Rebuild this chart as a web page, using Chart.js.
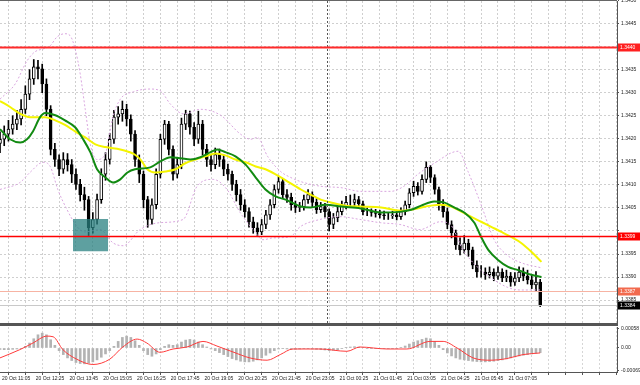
<!DOCTYPE html>
<html>
<head>
<meta charset="utf-8">
<script src="https://cdn.jsdelivr.net/npm/chart.js@4.4.0/dist/chart.umd.min.js"></script>
<style>
  html, body { margin: 0; padding: 0; background: #fff; }
  #wrap { position: relative; width: 640px; height: 385px; overflow: hidden; }
  canvas { position: absolute; left: 0; }
  #priceChart { top: 0; }
  #macdChart { top: 326px; }
</style>
</head>
<body>
<div id="wrap">
  <canvas id="priceChart" width="640" height="326"></canvas>
  <canvas id="macdChart" width="640" height="59"></canvas>
</div>
<script>
// 10-minute bars, bar 0 = 20 Oct 11:05
const timeLabels = ['20 Oct 11:05', '20 Oct 12:25', '20 Oct 13:45', '20 Oct 15:05', '20 Oct 16:25',
    '20 Oct 17:45', '20 Oct 19:05', '20 Oct 20:25', '20 Oct 21:45', '20 Oct 23:05', '21 Oct 00:25',
    '21 Oct 01:45', '21 Oct 03:05', '21 Oct 04:25', '21 Oct 05:45', '21 Oct 07:05'];
const daySeparator = 77.5; // 21 Oct 00:00

const firstOpen = 1.34190;
const closes = [
    1.34199, 1.34210, 1.34221, 1.34232, 1.34243, 1.34264, 1.34297, 1.34330, 1.34356, 1.34352,
    1.34319, 1.34264, 1.34177, 1.34155, 1.34134, 1.34155, 1.34144, 1.34123, 1.34101, 1.34079,
    1.34068, 1.34007, 1.34025, 1.34068, 1.34123, 1.34155, 1.34199, 1.34247, 1.34254, 1.34264,
    1.34243, 1.34210, 1.34155, 1.34123, 1.34068, 1.34025, 1.34057, 1.34123, 1.34199, 1.34232,
    1.34177, 1.34123, 1.34144, 1.34232, 1.34254, 1.34225, 1.34199, 1.34232, 1.34177, 1.34155,
    1.34144, 1.34166, 1.34155, 1.34134, 1.34123, 1.34101, 1.34079, 1.34057, 1.34042, 1.34020,
    1.34007, 1.33998, 1.34014, 1.34035, 1.34057, 1.34090, 1.34107, 1.34079, 1.34073, 1.34057,
    1.34051, 1.34053, 1.34068, 1.34079, 1.34062, 1.34046, 1.34053, 1.34042, 1.34014, 1.34029,
    1.34042, 1.34055, 1.34062, 1.34062, 1.34068, 1.34059, 1.34042, 1.34042, 1.34040, 1.34038,
    1.34035, 1.34033, 1.34033, 1.34035, 1.34031, 1.34042, 1.34057, 1.34083, 1.34097, 1.34086,
    1.34112, 1.34138, 1.34116, 1.34090, 1.34057, 1.34042, 1.34014, 1.33996, 1.33970, 1.33959,
    1.33974, 1.33959, 1.33926, 1.33911, 1.33911, 1.33905, 1.33911, 1.33902, 1.33911, 1.33898,
    1.33902, 1.33889, 1.33898, 1.33911, 1.33902, 1.33894, 1.33883, 1.33889, 1.33840
];
const highs = [
    1.34215, 1.34228, 1.34240, 1.34250, 1.34262, 1.34285, 1.34315, 1.34350, 1.34372, 1.34370,
    1.34362, 1.34330, 1.34272, 1.34190, 1.34165, 1.34170, 1.34168, 1.34155, 1.34135, 1.34112,
    1.34095, 1.34075, 1.34040, 1.34080, 1.34135, 1.34170, 1.34212, 1.34262, 1.34270, 1.34282,
    1.34275, 1.34252, 1.34218, 1.34165, 1.34130, 1.34075, 1.34070, 1.34135, 1.34210, 1.34240,
    1.34238, 1.34185, 1.34160, 1.34245, 1.34262, 1.34260, 1.34235, 1.34260, 1.34240, 1.34188,
    1.34165, 1.34180, 1.34178, 1.34165, 1.34145, 1.34130, 1.34110, 1.34090, 1.34068, 1.34050,
    1.34030, 1.34018, 1.34025, 1.34045, 1.34068, 1.34100, 1.34118, 1.34112, 1.34090, 1.34082,
    1.34065, 1.34062, 1.34078, 1.34090, 1.34085, 1.34070, 1.34062, 1.34060, 1.34048, 1.34038,
    1.34052, 1.34065, 1.34075, 1.34078, 1.34080, 1.34075, 1.34065, 1.34050, 1.34048, 1.34047,
    1.34045, 1.34043, 1.34040, 1.34043, 1.34042, 1.34050, 1.34065, 1.34092, 1.34108, 1.34105,
    1.34122, 1.34150, 1.34142, 1.34122, 1.34095, 1.34068, 1.34050, 1.34022, 1.34002, 1.33985,
    1.33990, 1.33982, 1.33965, 1.33935, 1.33925, 1.33920, 1.33922, 1.33918, 1.33922, 1.33918,
    1.33915, 1.33910, 1.33910, 1.33922, 1.33920, 1.33915, 1.33905, 1.33912, 1.33895
];
const lows = [
    1.34170, 1.34185, 1.34195, 1.34210, 1.34220, 1.34230, 1.34255, 1.34285, 1.34318, 1.34330,
    1.34300, 1.34250, 1.34165, 1.34140, 1.34120, 1.34125, 1.34130, 1.34105, 1.34090, 1.34065,
    1.34045, 1.33990, 1.33995, 1.34015, 1.34060, 1.34110, 1.34145, 1.34190, 1.34232, 1.34238,
    1.34228, 1.34195, 1.34140, 1.34105, 1.34050, 1.34008, 1.34015, 1.34048, 1.34115, 1.34188,
    1.34165, 1.34110, 1.34115, 1.34135, 1.34220, 1.34210, 1.34185, 1.34190, 1.34165, 1.34140,
    1.34130, 1.34135, 1.34140, 1.34120, 1.34110, 1.34088, 1.34065, 1.34045, 1.34030, 1.34008,
    1.33995, 1.33990, 1.33992, 1.34005, 1.34025, 1.34050, 1.34082, 1.34070, 1.34062, 1.34045,
    1.34040, 1.34042, 1.34045, 1.34060, 1.34052, 1.34038, 1.34040, 1.34030, 1.34000, 1.34005,
    1.34020, 1.34035, 1.34048, 1.34052, 1.34055, 1.34050, 1.34035, 1.34033, 1.34032, 1.34030,
    1.34028, 1.34025, 1.34025, 1.34027, 1.34024, 1.34025, 1.34035, 1.34050, 1.34075, 1.34078,
    1.34080, 1.34105, 1.34105, 1.34080, 1.34045, 1.34030, 1.34005, 1.33985, 1.33960, 1.33948,
    1.33952, 1.33945, 1.33918, 1.33900, 1.33900, 1.33895, 1.33898, 1.33892, 1.33895, 1.33890,
    1.33890, 1.33880, 1.33882, 1.33890, 1.33892, 1.33885, 1.33875, 1.33870, 1.33836
];

// indicator lines: [bar, price]
const fastMA = [
    [0, 1.34221], [2.4, 1.34199], [4.8, 1.34192], [6.4, 1.34199], [7.8, 1.34216], [9.5, 1.34247],
    [10.7, 1.34256], [13.1, 1.34251], [15.4, 1.34240], [17.8, 1.34225], [19.7, 1.34199], [21.4, 1.34171],
    [23, 1.34134], [25, 1.34116], [26.8, 1.34105], [28.5, 1.34112], [30.2, 1.34127], [32, 1.34134],
    [35.6, 1.34138], [38, 1.34151], [40.4, 1.34160], [42.8, 1.34158], [45.1, 1.34155], [47.5, 1.34160],
    [49.9, 1.34171], [51.5, 1.34177], [53.4, 1.34171], [55.8, 1.34162], [58.2, 1.34144], [60.6, 1.34116],
    [62.9, 1.34090], [65.3, 1.34075], [67.7, 1.34068], [71.3, 1.34053], [73.6, 1.34051], [77.2, 1.34057],
    [80.8, 1.34053], [85.5, 1.34049], [90.3, 1.34040], [95, 1.34042], [97.4, 1.34046], [99.8, 1.34055],
    [102.9, 1.34064], [105.2, 1.34062], [107.6, 1.34051], [110, 1.34040], [112.4, 1.34018], [114, 1.33987],
    [115.7, 1.33959], [118, 1.33937], [120.4, 1.33922], [122.8, 1.33915], [125.9, 1.33905], [128.3, 1.33900]
];
const slowMA = [
    [0, 1.34282], [2.4, 1.34269], [4.8, 1.34254], [7.1, 1.34247], [10.7, 1.34247], [13.1, 1.34240],
    [15.4, 1.34230], [17.8, 1.34216], [20.2, 1.34203], [22.6, 1.34188], [25, 1.34182], [28.5, 1.34177],
    [30.4, 1.34172], [31.9, 1.34166], [33.3, 1.34155], [34.9, 1.34134], [36.8, 1.34127], [39.2, 1.34129],
    [41.6, 1.34134], [43.9, 1.34147], [46.3, 1.34155], [48.7, 1.34162], [51.1, 1.34168], [53.4, 1.34164],
    [55.8, 1.34155], [58.2, 1.34149], [60.6, 1.34140], [62.9, 1.34134], [65.3, 1.34123], [67.7, 1.34110],
    [71.3, 1.34090], [73.6, 1.34079], [76, 1.34068], [78.4, 1.34062], [81.9, 1.34055], [85.5, 1.34053],
    [90.3, 1.34051], [95, 1.34044], [97.4, 1.34046], [99.8, 1.34051], [102.1, 1.34055], [104.5, 1.34057],
    [106.9, 1.34053], [109.3, 1.34042], [111.6, 1.34031], [114, 1.34020], [116.4, 1.34009], [118.8, 1.33998],
    [121.1, 1.33987], [123.5, 1.33974], [125.9, 1.33955], [128.3, 1.33933]
];
const upperBand = [
    [0, 1.34286], [3.6, 1.34319], [6.4, 1.34369], [8.3, 1.34389], [10.2, 1.34395], [11.9, 1.34402],
    [13.5, 1.34421], [15.4, 1.34428], [16.6, 1.34424], [17.8, 1.34395], [19, 1.34341], [20.2, 1.34264],
    [21.4, 1.34188], [23, 1.34155], [24.9, 1.34166], [26.8, 1.34249], [28.5, 1.34286], [31.6, 1.34302],
    [35.6, 1.34308], [38, 1.34304], [40.4, 1.34275], [43.5, 1.34254], [47.5, 1.34264], [52.3, 1.34251],
    [57, 1.34210], [59.4, 1.34199], [61, 1.34203], [63.4, 1.34162], [66.5, 1.34129], [68.9, 1.34116],
    [71.3, 1.34107], [76, 1.34097], [80.8, 1.34094], [85.5, 1.34086], [92.6, 1.34086], [95.7, 1.34097],
    [99, 1.34123], [102.9, 1.34147], [108.6, 1.34173], [110.9, 1.34129], [114, 1.34057], [117.1, 1.33981],
    [120.4, 1.33946], [123.5, 1.33931], [128.3, 1.33920]
];
const lowerBand = [
    [0, 1.34090], [4.7, 1.34105], [7.1, 1.34127], [10.2, 1.34149], [11.9, 1.34140], [13.7, 1.34090],
    [15.9, 1.34046], [18.3, 1.34009], [20.1, 1.33998], [23.7, 1.34003], [26.8, 1.33974], [29.2, 1.33968],
    [33.2, 1.34003], [37.9, 1.34018], [43.4, 1.34025], [46.7, 1.34097], [50.5, 1.34112], [53.8, 1.34090],
    [56.9, 1.34040], [60, 1.34003], [62.3, 1.33981], [64.7, 1.33985], [68.7, 1.33987], [71.1, 1.34009],
    [75.8, 1.34025], [80.6, 1.34031], [85.3, 1.34025], [90.1, 1.34018], [94.8, 1.34014], [99.5, 1.34003],
    [104.3, 1.34020], [106.7, 1.34014], [109.7, 1.33959], [113.1, 1.33922], [116.1, 1.33900], [120.2, 1.33878],
    [123.3, 1.33872], [128, 1.33872]
];

const macdHist = [
    -0.00004, -0.00005, -0.00005, -0.00004, -0.00003, -0.00001, 0.00005, 0.00015, 0.00028, 0.00040,
    0.00045, 0.00040, 0.00025, 0.00008, -0.00008, -0.00020, -0.00030, -0.00038, -0.00044, -0.00047,
    -0.00048, -0.00046, -0.00042, -0.00036, -0.00028, -0.00018, -0.00008, 0.00005, 0.00020, 0.00032,
    0.00036, 0.00032, 0.00022, 0.00008, -0.00008, -0.00020, -0.00025, -0.00018, -0.00005, 0.00005,
    0.00010, 0.00008, 0.00010, 0.00018, 0.00024, 0.00026, 0.00024, 0.00018, 0.00010, 0.00003,
    -0.00003, -0.00008, -0.00014, -0.00020, -0.00026, -0.00032, -0.00036, -0.00040, -0.00042, -0.00042,
    -0.00040, -0.00036, -0.00030, -0.00022, -0.00015, -0.00008, -0.00003, -0.00002, -0.00003, -0.00004,
    -0.00004, -0.00003, -0.00002, -0.00002, -0.00003, -0.00004, -0.00005, -0.00006, -0.00008, -0.00007,
    -0.00005, -0.00002, 0.00001, 0.00003, 0.00004, 0.00003, 0.00001, -0.00001, -0.00002, -0.00002,
    -0.00002, -0.00002, -0.00002, -0.00002, -0.00001, 0.00002, 0.00006, 0.00012, 0.00018, 0.00022,
    0.00026, 0.00030, 0.00028, 0.00020, 0.00008, -0.00005, -0.00015, -0.00024, -0.00030, -0.00034,
    -0.00036, -0.00038, -0.00040, -0.00041, -0.00042, -0.00042, -0.00041, -0.00040, -0.00038, -0.00036,
    -0.00033, -0.00030, -0.00027, -0.00024, -0.00022, -0.00020, -0.00018, -0.00016, -0.00014
];
const macdSignal = [
    [0, -0.00030], [4.7, -0.00005], [7.8, 0.00015], [11.1, 0.00036], [12.6, 0.00034], [14.9, -0.00005],
    [18.2, -0.00034], [22, -0.00050], [26, -0.00034], [29.1, 0.00003], [32.5, 0.00027], [34.8, 0.00015],
    [37.9, -0.00013], [41, -0.00003], [44.3, 0.00003], [48.1, 0.00020], [51.4, 0.00006], [55.2, -0.00012],
    [59.2, -0.00030], [63.3, -0.00037], [66.4, -0.00020], [69.4, -0.00003], [75.8, -0.00003], [82.2, -0.00010],
    [85.3, 0.00003], [91.7, -0.00003], [96.4, -0.00003], [101.9, 0.00020], [105, 0.00020], [108.3, 0.00000],
    [112.1, -0.00030], [116.1, -0.00037], [120.1, -0.00032], [123.9, -0.00020], [128, -0.00015]
];

const priceTicks = [1.3385, 1.3390, 1.3395, 1.3400, 1.3405, 1.3410, 1.3415, 1.3420,
    1.3425, 1.3430, 1.3435, 1.3440, 1.3445, 1.3450];
const hiddenTicks = [1.3400, 1.3440];
const macdTicks = [0.00058, 0, -0.00069];

// horizontal levels and the marked zone
const levels = [1.3440, 1.3399, 1.3387, 1.3384];
const zoneBars = [17.3, 25.6];
const zonePrices = [1.33956, 1.34026];

const levelStyle = [
    { line: '#ff2a2a', box: '#ff2020', width: 2 },
    { line: '#ff0000', box: '#ff0000', width: 1.5 },
    { line: '#f7b3a3', box: '#f26a4e', width: 1 },
    { line: '#c9c9c9', box: '#000000', width: 1 }
];

const xMin = 0, xMax = 146.2;
const gridBars = [];
for (let v = 0; v <= xMax; v += 4) gridBars.push(v);

Chart.defaults.font.family = 'Liberation Sans, Arial, sans-serif';
Chart.defaults.font.size = 5;
Chart.defaults.color = '#222';

const opens = closes.map((c, i) => i === 0 ? firstOpen : closes[i - 1]);
const toXY = arr => arr.map(p => ({ x: p[0], y: p[1] }));

// keep the plot area flush with the canvas edges
function fitRight(s) {
    s.width = 23;
    s.paddingTop = 0;
    s.paddingBottom = 0;
}

function hLine(ctx, x0, x1, y) {
    ctx.beginPath();
    ctx.moveTo(x0, y);
    ctx.lineTo(x1, y);
    ctx.stroke();
}

const priceOverlay = {
    id: 'priceOverlay',
    afterDatasetsDraw(chart) {
        const { ctx, chartArea: a, scales: { x, y } } = chart;
        ctx.save();
        // marked zone
        const zx0 = x.getPixelForValue(zoneBars[0]);
        const zx1 = x.getPixelForValue(zoneBars[1]);
        const zy0 = y.getPixelForValue(zonePrices[1]);
        const zy1 = y.getPixelForValue(zonePrices[0]);
        ctx.fillStyle = 'rgba(40,128,128,0.75)';
        ctx.fillRect(zx0, zy0, zx1 - zx0, zy1 - zy0);
        // day separator
        const sx = Math.round(x.getPixelForValue(daySeparator)) + 0.5;
        ctx.strokeStyle = '#555';
        ctx.lineWidth = 1;
        ctx.setLineDash([2, 2]);
        ctx.beginPath();
        ctx.moveTo(sx, a.top);
        ctx.lineTo(sx, a.bottom);
        ctx.stroke();
        ctx.setLineDash([]);
        // level lines
        levels.forEach((v, i) => {
            ctx.strokeStyle = levelStyle[i].line;
            ctx.lineWidth = levelStyle[i].width;
            hLine(ctx, a.left, a.right, Math.round(y.getPixelForValue(v)) + 0.5);
        });
        ctx.restore();
    },
    afterDraw(chart) {
        const { ctx, chartArea: a, scales: { y } } = chart;
        ctx.save();
        // frame
        ctx.fillStyle = '#666';
        ctx.fillRect(0, 0, a.right, 1);
        ctx.fillStyle = '#555';
        ctx.fillRect(0, a.bottom - 2, a.right + 1, 3);
        // price boxes on the axis
        ctx.font = '5px Liberation Sans, Arial, sans-serif';
        ctx.textBaseline = 'middle';
        levels.forEach((v, i) => {
            const py = Math.round(y.getPixelForValue(v)) + 0.5;
            ctx.fillStyle = levelStyle[i].box;
            ctx.fillRect(a.right + 1, py - 4, 22, 8);
            ctx.fillStyle = '#fff';
            ctx.fillText(v.toFixed(4), a.right + 3, py);
        });
        ctx.restore();
    }
};

new Chart(document.getElementById('priceChart'), {
    data: {
        datasets: [
            {
                type: 'bar',
                data: closes.map((c, i) => ({ x: i, y: [lows[i], highs[i]] })),
                backgroundColor: '#000',
                barThickness: 1,
                grouped: false,
                order: 6
            },
            {
                type: 'bar',
                data: closes.map((c, i) => ({ x: i, y: [opens[i], c] })),
                backgroundColor: closes.map((c, i) => c >= opens[i] ? '#ffffff' : '#000000'),
                borderColor: '#000',
                borderWidth: 1,
                borderSkipped: false,
                barThickness: 3,
                grouped: false,
                order: 5
            },
            {
                type: 'line',
                data: toXY(upperBand),
                borderColor: '#d9a6df',
                borderWidth: 1,
                borderDash: [2, 2],
                pointRadius: 0,
                cubicInterpolationMode: 'monotone',
                order: 4
            },
            {
                type: 'line',
                data: toXY(lowerBand),
                borderColor: '#d9a6df',
                borderWidth: 1,
                borderDash: [2, 2],
                pointRadius: 0,
                cubicInterpolationMode: 'monotone',
                order: 4
            },
            {
                type: 'line',
                data: toXY(slowMA),
                borderColor: '#f4f400',
                borderWidth: 2,
                pointRadius: 0,
                cubicInterpolationMode: 'monotone',
                order: 3
            },
            {
                type: 'line',
                data: toXY(fastMA),
                borderColor: '#128a12',
                borderWidth: 2,
                pointRadius: 0,
                cubicInterpolationMode: 'monotone',
                order: 2
            }
        ]
    },
    options: {
        responsive: false,
        animation: false,
        events: [],
        layout: { padding: { top: 1, bottom: 1, left: 0, right: 0 } },
        plugins: { legend: { display: false }, tooltip: { enabled: false } },
        scales: {
            x: {
                type: 'linear',
                min: xMin,
                max: xMax,
                offset: false,
                afterBuildTicks: s => { s.ticks = gridBars.map(v => ({ value: v })); },
                ticks: { display: false },
                grid: { color: '#cfcfcf', drawTicks: false },
                border: { display: false, dash: [2, 2] },
                afterFit: s => { s.height = 0; s.paddingLeft = 0; s.paddingRight = 0; }
            },
            y: {
                position: 'right',
                min: 1.33796,
                max: 1.34499,
                afterBuildTicks: s => { s.ticks = priceTicks.map(v => ({ value: v })); },
                ticks: {
                    padding: 2,
                    autoSkip: false,
                    callback: v => hiddenTicks.includes(v) ? '' : v.toFixed(4)
                },
                grid: { color: '#cfcfcf', tickColor: '#555', tickLength: 2, tickBorderDash: [] },
                border: { display: true, color: '#555', dash: [2, 2] },
                afterFit: fitRight
            }
        }
    },
    plugins: [priceOverlay]
});

new Chart(document.getElementById('macdChart'), {
    data: {
        datasets: [
            {
                type: 'bar',
                data: macdHist.map((v, i) => ({ x: i, y: v })),
                backgroundColor: '#b3b3b3',
                barThickness: 2,
                order: 2
            },
            {
                type: 'line',
                data: toXY(macdSignal),
                borderColor: '#ff3b3b',
                borderWidth: 1,
                pointRadius: 0,
                cubicInterpolationMode: 'monotone',
                order: 1
            }
        ]
    },
    options: {
        responsive: false,
        animation: false,
        events: [],
        layout: { padding: { top: 1, bottom: 0, left: 0, right: 0 } },
        plugins: { legend: { display: false }, tooltip: { enabled: false } },
        scales: {
            x: {
                type: 'linear',
                min: xMin,
                max: xMax,
                offset: false,
                afterBuildTicks: s => { s.ticks = gridBars.map(v => ({ value: v })); },
                ticks: {
                    autoSkip: false,
                    maxRotation: 0,
                    minRotation: 0,
                    align: 'start',
                    labelOffset: 2,
                    padding: 1,
                    callback: v => v % 8 === 0 && timeLabels[v / 8] ? timeLabels[v / 8] : ''
                },
                grid: { color: '#d6d6d6', tickColor: '#555', tickLength: 3, tickBorderDash: [] },
                border: { display: true, color: '#555', dash: [2, 2] },
                afterFit: s => { s.height = 13; s.paddingLeft = 0; s.paddingRight = 0; }
            },
            y: {
                position: 'right',
                min: -0.000727,
                max: 0.000636,
                afterBuildTicks: s => { s.ticks = macdTicks.map(v => ({ value: v })); },
                ticks: {
                    padding: 2,
                    autoSkip: false,
                    callback: v => v === 0 ? '0.00' : v.toFixed(5)
                },
                grid: { drawOnChartArea: false, tickColor: '#555', tickLength: 2 },
                border: { display: true, color: '#555' },
                afterFit: fitRight
            }
        }
    }
});
</script>
</body>
</html>
